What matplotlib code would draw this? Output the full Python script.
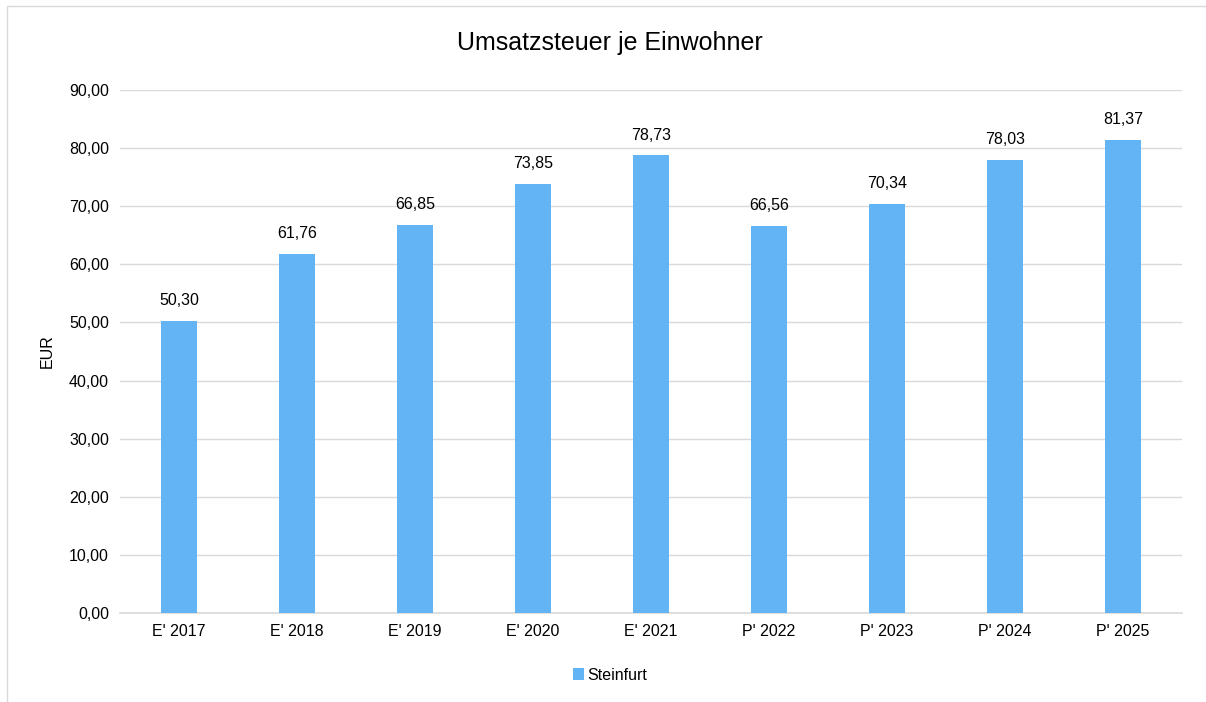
import matplotlib
matplotlib.use("Agg")
import matplotlib.pyplot as plt
from matplotlib.patches import Rectangle

categories = ["E' 2017", "E' 2018", "E' 2019", "E' 2020", "E' 2021",
              "P' 2022", "P' 2023", "P' 2024", "P' 2025"]
values = [50.30, 61.76, 66.85, 73.85, 78.73, 66.56, 70.34, 78.03, 81.37]
series_name = "Steinfurt"
title = "Umsatzsteuer je Einwohner"
y_label = "EUR"

plt.rcParams['font.family'] = ['Liberation Sans', 'DejaVu Sans']
fs = 11.5

fig = plt.figure(figsize=(12.06, 7.02), dpi=100)
ax = fig.add_axes([120/1206, 1-613/702, (1182-120)/1206, (613-90)/702])

color = "#63B4F5"
x = list(range(len(categories)))
bars = ax.bar(x, values, width=0.31, color=color, label=series_name, zorder=3)
for xi, v in zip(x, values):
    ax.text(xi, v + 2.2, f"{v:.2f}".replace(".", ","), ha="center", va="bottom",
            fontsize=fs, color="#000000")

ax.set_xlim(-0.5, len(categories) - 0.5)
ax.set_ylim(0, 90)
ax.set_yticks(range(0, 91, 10))
ax.set_yticklabels([f"{t},00" for t in range(0, 91, 10)], fontsize=fs)
ax.set_xticks(x)
ax.set_xticklabels(categories, fontsize=fs)
ax.grid(axis="y", color="#D9D9D9", linewidth=1, zorder=0)
for s in ["top", "right", "left"]:
    ax.spines[s].set_visible(False)
ax.spines["bottom"].set_color("#D9D9D9")
ax.spines["bottom"].set_linewidth(1.2)
ax.tick_params(axis="both", length=0, pad=8)
ax.set_ylabel(y_label, fontsize=fs, labelpad=10)

fig.text(610/1206, 1-43/702, title, ha="center", va="center", fontsize=18)

fig.legend(handles=[bars], labels=[series_name], loc="center",
           bbox_to_anchor=(610/1206, 1-675/702), frameon=False, fontsize=fs,
           handlelength=0.7, handleheight=0.7, handletextpad=0.2)

fig.patches.append(Rectangle((7/1206, -0.1), 1.2, (1-6/702) + 0.1, transform=fig.transFigure,
                             fill=False, edgecolor="#D9D9D9", linewidth=1))

fig.savefig("out.png", dpi=100)
